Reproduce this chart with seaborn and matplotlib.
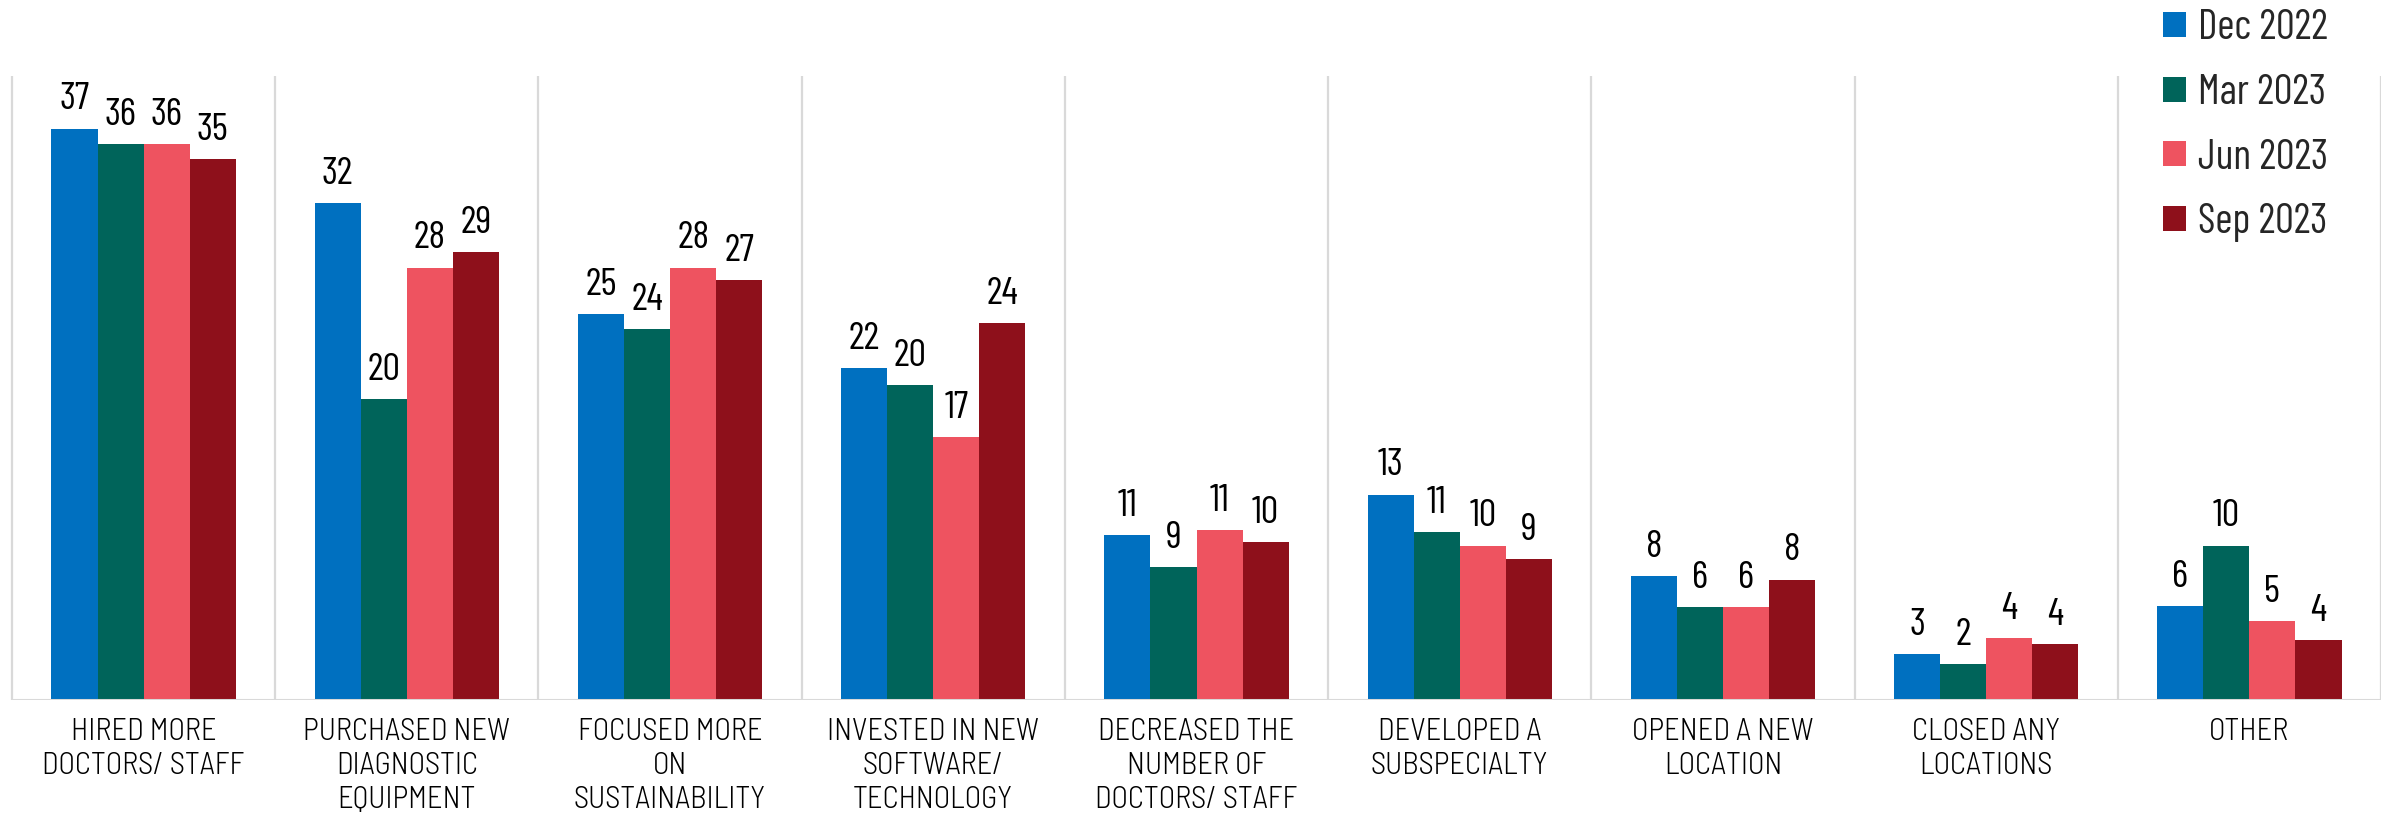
import os
import pandas as pd
import matplotlib
matplotlib.use("Agg")
import matplotlib.pyplot as plt
import matplotlib.font_manager as fm
from matplotlib.patches import Patch
import seaborn as sns

categories = [
    "HIRED MORE DOCTORS/ STAFF",
    "PURCHASED NEW DIAGNOSTIC EQUIPMENT",
    "FOCUSED MORE ON SUSTAINABILITY",
    "INVESTED IN NEW SOFTWARE/ TECHNOLOGY",
    "DECREASED THE NUMBER OF DOCTORS/ STAFF",
    "DEVELOPED A SUBSPECIALTY",
    "OPENED A NEW LOCATION",
    "CLOSED ANY LOCATIONS",
    "OTHER",
]
tick_labels = [
    "HIRED MORE\nDOCTORS/ STAFF",
    "PURCHASED NEW\nDIAGNOSTIC\nEQUIPMENT",
    "FOCUSED MORE\nON\nSUSTAINABILITY",
    "INVESTED IN NEW\nSOFTWARE/\nTECHNOLOGY",
    "DECREASED THE\nNUMBER OF\nDOCTORS/ STAFF",
    "DEVELOPED A\nSUBSPECIALTY",
    "OPENED A NEW\nLOCATION",
    "CLOSED ANY\nLOCATIONS",
    "OTHER",
]
periods = ["Dec 2022", "Mar 2023", "Jun 2023", "Sep 2023"]

dec_2022 = [37.0, 32.2, 25.0, 21.5, 10.7, 13.3, 8.0, 3.0, 6.1]
mar_2023 = [36.0, 19.5, 24.0, 20.4, 8.6, 10.9, 6.0, 2.3, 10.0]
jun_2023 = [36.0, 28.0, 28.0, 17.0, 11.0, 10.0, 6.0, 4.0, 5.1]
sep_2023 = [35.0, 29.0, 27.2, 24.4, 10.2, 9.1, 7.8, 3.6, 3.9]

colors = ["#0070C0", "#00645A", "#EE5360", "#8E101B"]


def font_file(*names):
    # pick a static font file by its file name, fall back to Liberation Sans
    files = {os.path.basename(f.fname): f.fname for f in fm.fontManager.ttflist}
    for n in names:
        if n in files:
            return fm.FontProperties(fname=files[n])
    return fm.FontProperties(family="Liberation Sans")


narrow = font_file("BarlowCondensed-Regular.ttf", "RobotoCondensed-Regular.ttf",
                   "PT_Sans-Narrow-Web-Regular.ttf")
light = font_file("BarlowSemiCondensed-Light.ttf", "FiraSansCondensed-Light.ttf",
                  "RobotoCondensed-Light.ttf")

rows = []
for period, vals in zip(periods, [dec_2022, mar_2023, jun_2023, sep_2023]):
    for cat, v in zip(categories, vals):
        rows.append({"category": cat, "period": period, "value": v})
df = pd.DataFrame(rows)

sns.set_theme(style="white")
plt.rcParams["font.family"] = ["Liberation Sans", "DejaVu Sans"]

fig = plt.figure(figsize=(23.81, 8.15), dpi=100)
ax = fig.add_axes([12 / 2381, 1 - 700 / 815, 1 - 12 / 2381, 624 / 815])

sns.barplot(
    data=df, x="category", y="value", hue="period",
    order=categories, hue_order=periods, palette=colors,
    width=0.7, saturation=1, errorbar=None, legend=False, ax=ax,
    edgecolor="none", linewidth=0,
)

num_font = narrow.copy()
num_font.set_size(28)
for cont in ax.containers:
    ax.bar_label(cont, labels=[f"{int(v + 0.5)}" for v in cont.datavalues],
                 padding=8, fontproperties=num_font, color="black")

ymax = 40.4
ax.set_ylim(0, ymax)
ax.set_xlim(-0.5, len(categories) - 0.5)

# group separators and baseline
ax.vlines([i - 0.5 for i in range(len(categories) + 1)], 0, ymax,
          color="#D9D9D9", linewidth=1.6, zorder=0, clip_on=False)
ax.axhline(0, color="#D9D9D9", linewidth=2.2, zorder=3)

for s in ax.spines.values():
    s.set_visible(False)
ax.set_yticks([])
ax.set_xlabel("")
ax.set_ylabel("")
ax.set_xticks(range(len(categories)))
lab_font = light.copy()
lab_font.set_size(22)
ax.set_xticklabels(tick_labels, fontproperties=lab_font, linespacing=1.27,
                   color="black")
ax.tick_params(axis="x", length=0, pad=13)

leg_font = narrow.copy()
leg_font.set_size(30)
handles = [Patch(facecolor=c, edgecolor="none") for c in colors]
fig.legend(handles, periods, loc="upper left",
           bbox_to_anchor=(2163 / 2381, 1 - 9 / 815),
           frameon=False, prop=leg_font, borderpad=0, borderaxespad=0,
           handlelength=0.55, handleheight=0.55, handletextpad=0.3,
           labelspacing=0.62)

fig.savefig("out.png", dpi=100)
